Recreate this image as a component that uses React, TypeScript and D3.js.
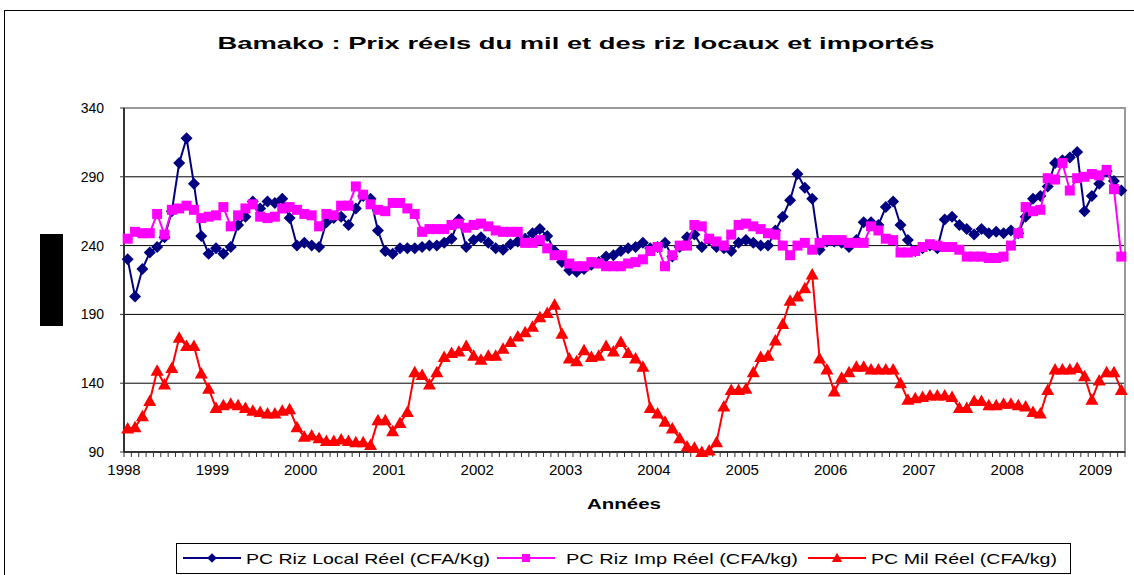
import React from 'react';
import * as d3 from 'd3';

// monthly values, Jan 1998 .. Apr 2009
const years = ['1998', '1999', '2000', '2001', '2002', '2003', '2004', '2005', '2006', '2007', '2008', '2009'];
const yTicks = [90, 140, 190, 240, 290, 340];

const rizLocal = [
  230, 203, 223, 235, 239, 246, 265, 300, 318, 285, 247, 234,
  238, 234, 239, 255, 261, 272, 267, 272, 271, 274, 260, 240,
  242, 240, 239, 257, 260, 261, 255, 267, 276, 274, 251, 236,
  234, 238, 238, 238, 239, 240, 240, 242, 245, 259, 239, 244,
  246, 242, 238, 237, 241, 243, 245, 249, 252, 247, 236, 228,
  222, 221, 223, 226, 228, 232, 233, 236, 238, 239, 242, 238,
  239, 242, 232, 239, 246, 248, 239, 244, 239, 238, 236, 242,
  244, 242, 240, 240, 251, 261, 273, 292, 282, 274, 237, 243,
  243, 242, 239, 244, 257, 257, 255, 268, 272, 255, 244, 236,
  238, 240, 238, 259, 261, 255, 252, 248, 252, 249, 250, 249,
  251, 249, 261, 274, 276, 283, 300, 302, 304, 308, 265, 276,
  285, 294, 287, 280,
];

const rizImp = [
  245, 250, 249, 249, 263, 248, 266, 267, 269, 266, 260, 261,
  262, 268, 254, 262, 267, 270, 261, 260, 261, 267, 268, 266,
  263, 262, 254, 263, 262, 269, 269, 283, 277, 270, 266, 265,
  271, 271, 267, 263, 250, 252, 252, 252, 255, 256, 253, 255,
  256, 254, 251, 250, 250, 250, 242, 242, 244, 238, 233, 233,
  227, 225, 225, 228, 227, 225, 225, 225, 227, 228, 230, 236,
  239, 225, 233, 240, 240, 255, 254, 245, 243, 240, 248, 255,
  256, 254, 252, 249, 248, 240, 233, 240, 242, 237, 242, 244,
  244, 244, 242, 242, 242, 254, 251, 245, 244, 235, 235, 236,
  239, 241, 240, 239, 239, 237, 232, 232, 232, 231, 231, 232,
  240, 249, 268, 265, 266, 289, 288, 300, 280, 289, 290, 292,
  291, 295, 281, 232,
];

const mil = [
  107, 108, 116, 127, 149, 139, 151, 173, 167, 167, 147, 136,
  122, 124, 125, 124, 122, 120, 119, 118, 118, 120, 121, 108,
  101, 102, 100, 98, 98, 99, 98, 97, 97, 95, 113, 113,
  105, 111, 119, 148, 146, 139, 148, 159, 162, 163, 167, 160,
  157, 160, 160, 165, 170, 174, 177, 181, 188, 191, 197, 176,
  158, 156, 164, 159, 160, 167, 163, 170, 162, 158, 152, 122,
  118, 112, 107, 100, 94, 93, 90, 91, 97, 123, 135, 135,
  136, 148, 159, 160, 171, 183, 200, 203, 209, 219, 158, 150,
  134, 144, 148, 152, 152, 150, 150, 150, 150, 140, 128, 129,
  130, 131, 131, 131, 130, 122, 122, 127, 127, 124, 124, 125,
  125, 124, 123, 119, 118, 135, 150, 150, 150, 151, 145, 128,
  142, 148, 148, 135,
];

const FONT = '"Liberation Sans", Arial, sans-serif';
const left = 124, right = 1125, top = 108, bottom = 452;

const diamond = 'M0,-6L6,0L0,6L-6,0Z';
const square = 'M-5,-5L5,-5L5,5L-5,5Z';
const triangle = 'M0,-6.5L6.5,5L-6.5,5Z';

const series = [
  { name: 'PC Riz Local Réel (CFA/Kg)', values: rizLocal, color: '#000080', marker: diamond },
  { name: 'PC Riz Imp Réel (CFA/kg)', values: rizImp, color: '#FF00FF', marker: square },
  { name: 'PC Mil Réel (CFA/kg)', values: mil, color: '#FF0000', marker: triangle },
];

// legend layout
const legendItems = [
  { lx: 183, tx: 246, tw: 244 },
  { lx: 497, tx: 566, tw: 232 },
  { lx: 808, tx: 871, tw: 186 },
];

export default function App() {
  const n = rizLocal.length;
  const x = d3.scaleBand<number>().domain(d3.range(n)).range([left, right]);
  const y = d3.scaleLinear().domain([90, 340]).range([bottom, top]);
  const cx = (i: number) => (x(i) as number) + x.bandwidth() / 2;
  const line = d3.line<number>().x((_, i) => cx(i)).y((d) => y(d));

  const tickXs = d3.range(n + 1).map((i) => left + i * x.bandwidth());

  return (
    <svg width={1134} height={575} style={{ position: 'absolute', left: 0, top: 0, background: '#fff' }} fontFamily={FONT}>
      <rect x={0} y={0} width={1134} height={575} fill="#fff" />
      {/* chart area border */}
      <rect x={4.5} y={10.5} width={1140} height={580} fill="none" stroke="#000" strokeWidth={1} />

      <text x={576} y={49} textAnchor="middle" fontSize={17} fontWeight="bold" textLength={717} lengthAdjust="spacingAndGlyphs">
        Bamako : Prix réels du mil et des riz locaux et importés
      </text>

      {/* hidden y title */}
      <rect x={40} y={234} width={23} height={92} fill="#000" />

      {/* gridlines */}
      {yTicks.slice(1, -1).map((t) => (
        <line key={t} x1={left} x2={right} y1={y(t)} y2={y(t)} stroke="#000" strokeWidth={1} />
      ))}
      <rect x={left} y={top} width={right - left} height={bottom - top} fill="none" stroke="#999" strokeWidth={2} />

      {/* y axis */}
      <line x1={left} x2={left} y1={top} y2={bottom} stroke="#333" strokeWidth={2} />
      {yTicks.map((t) => (
        <g key={t}>
          <line x1={left - 4} x2={left} y1={y(t)} y2={y(t)} stroke="#333" />
          <text x={104} y={y(t) + 5} textAnchor="end" fontSize={14}>{t}</text>
        </g>
      ))}

      {/* x axis */}
      <line x1={left} x2={right} y1={bottom} y2={bottom} stroke="#333" strokeWidth={2} />
      {tickXs.map((tx, i) => (
        <line key={i} x1={tx} x2={tx} y1={bottom} y2={bottom + 5} stroke="#333" strokeWidth={1} />
      ))}
      {years.map((yr, k) => (
        <text key={yr} x={left + 12 * k * x.bandwidth()} y={475} textAnchor="middle" fontSize={15}>{yr}</text>
      ))}
      <text x={624} y={509} textAnchor="middle" fontSize={14} fontWeight="bold" textLength={74} lengthAdjust="spacingAndGlyphs">Années</text>

      {/* series */}
      {series.map((s) => (
        <g key={s.name}>
          <path d={line(s.values) || ''} fill="none" stroke={s.color} strokeWidth={2} />
          {s.values.map((v, i) => (
            <path key={i} d={s.marker} transform={`translate(${cx(i)},${y(v)})`} fill={s.color} />
          ))}
        </g>
      ))}

      {/* legend */}
      <rect x={176.5} y={543.5} width={894} height={30} fill="#fff" stroke="#000" />
      {series.map((s, k) => {
        const it = legendItems[k];
        return (
          <g key={s.name}>
            <line x1={it.lx} x2={it.lx + 58} y1={558} y2={558} stroke={s.color} strokeWidth={2} />
            <path d={s.marker} transform={`translate(${it.lx + 29},558) scale(0.8)`} fill={s.color} />
            <text x={it.tx} y={564} fontSize={15} textLength={it.tw} lengthAdjust="spacingAndGlyphs">{s.name}</text>
          </g>
        );
      })}
    </svg>
  );
}
